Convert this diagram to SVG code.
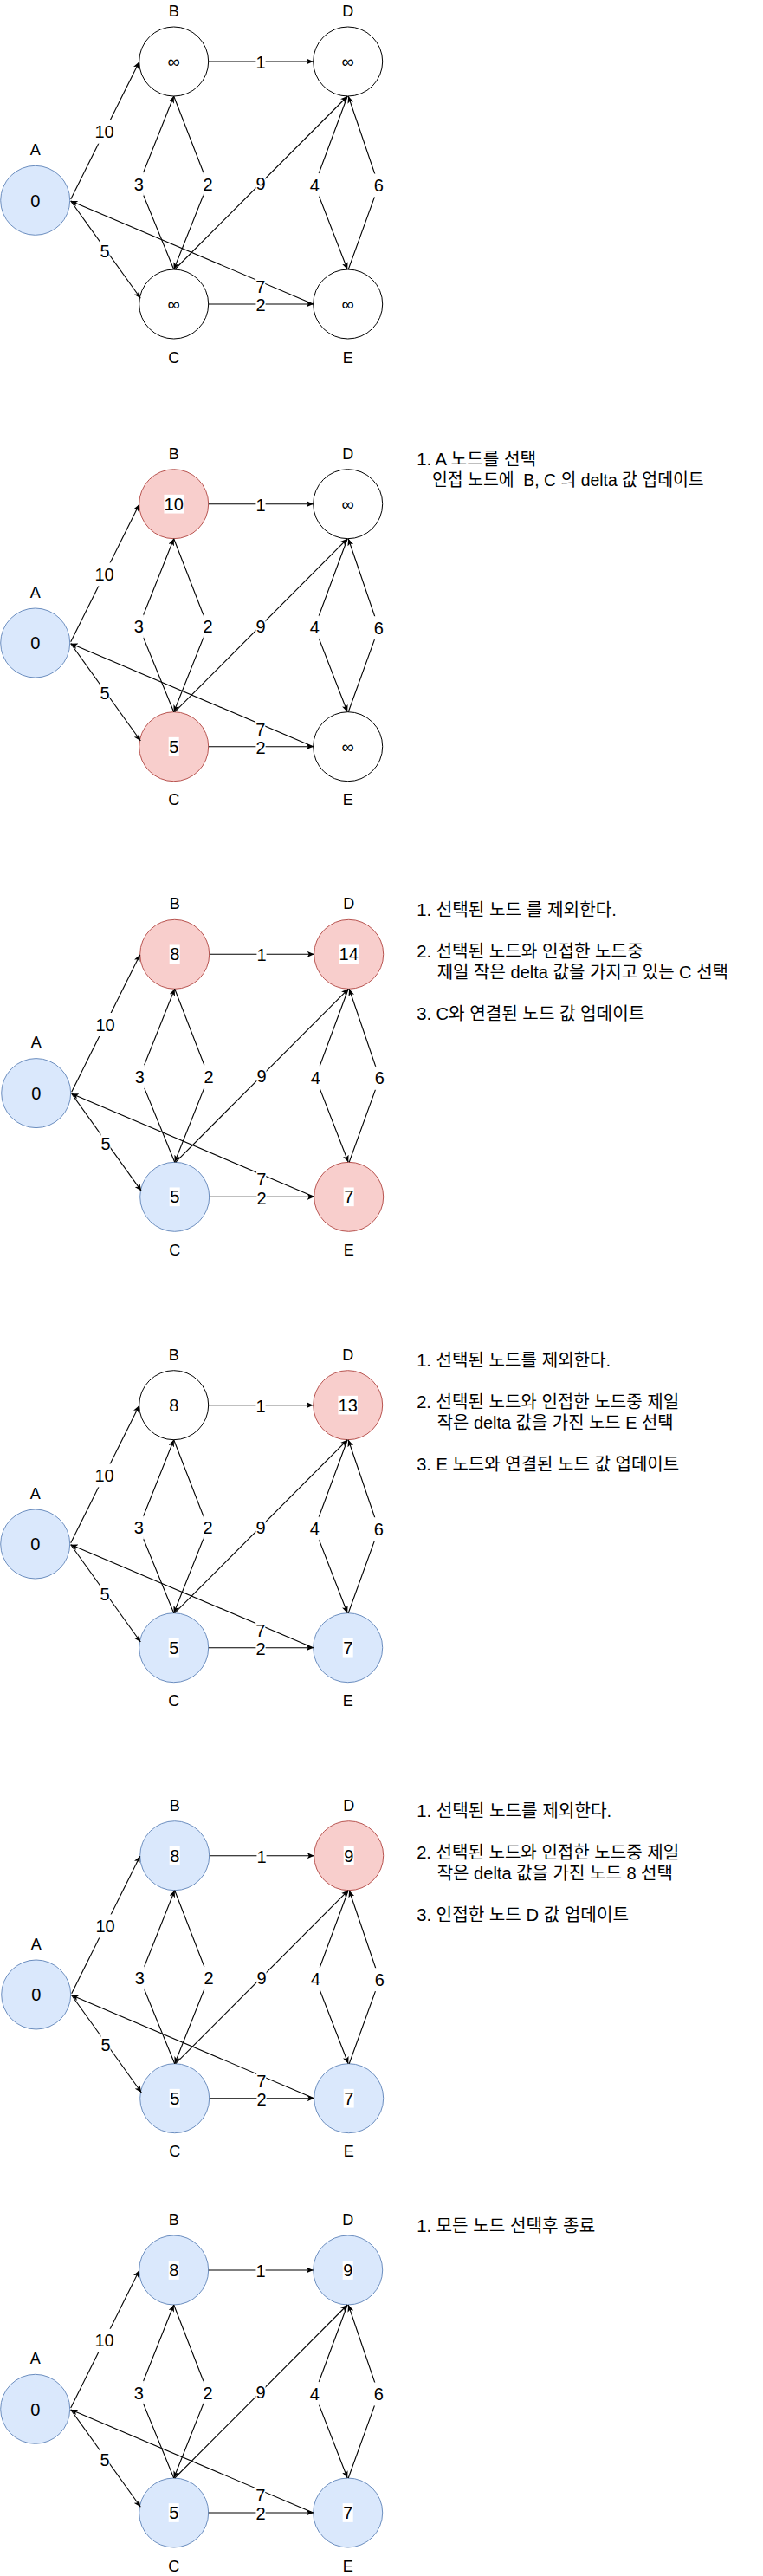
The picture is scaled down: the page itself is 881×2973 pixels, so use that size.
<svg xmlns="http://www.w3.org/2000/svg" xmlns:xlink="http://www.w3.org/1999/xlink" width="881" height="2973" viewBox="0 0 881 2973">
<style>
text { font-family: 'Liberation Sans', 'Noto Sans CJK KR', sans-serif; fill: #000; }
.lbl { font-size: 18px; text-anchor: middle; }
.val { font-size: 20px; text-anchor: middle; }
.el { font-size: 20px; text-anchor: middle; }
.bg { fill: #fff; stroke: none; }
.blue { fill: #dae8fc; stroke: #6c8ebf; stroke-width: 1; }
.red { fill: #f8cecc; stroke: #b85450; stroke-width: 1; }
.white { fill: #fff; stroke: #000; stroke-width: 1; }
.edge { fill: none; stroke: #000; stroke-width: 1.1; marker-end: url(#arr); }
.note { font-size: 20px; white-space: pre; }
</style>
<defs>
<marker id="arr" viewBox="0 0 8 7" refX="8" refY="3.5" markerWidth="8" markerHeight="7" markerUnits="userSpaceOnUse" orient="auto">
<path d="M0,0 L8,3.5 L0,7 L2,3.5 z" fill="#000"/>
</marker>
</defs>
<rect width="881" height="2973" fill="#fff"/>

<!-- Panel 1 -->
<g id="panel1" transform="translate(0,0)">
<g id="p1-A"><circle class="blue" cx="40.7" cy="231.3" r="40"/><text class="val" x="40.7" y="238.5">0</text><text class="lbl" x="40.7" y="179">A</text></g>
<g id="p1-B"><circle class="white" cx="200.7" cy="71" r="40"/><text class="val" x="200.7" y="78">∞</text><text class="lbl" x="200.7" y="19">B</text></g>
<g id="p1-C"><circle class="white" cx="200.7" cy="351" r="40"/><text class="val" x="200.7" y="358">∞</text><text class="lbl" x="200.7" y="418.7">C</text></g>
<g id="p1-D"><circle class="white" cx="401.7" cy="71" r="40"/><text class="val" x="401.7" y="78">∞</text><text class="lbl" x="401.7" y="19">D</text></g>
<g id="p1-E"><circle class="white" cx="401.7" cy="351" r="40"/><text class="val" x="401.7" y="358">∞</text><text class="lbl" x="401.7" y="418.7">E</text></g>
<g id="p1-connectors">
<path class="edge" d="M81.7,230 L160.7,71.5"/>
<path class="edge" d="M81.7,232 L162.3,344.3"/>
<path class="edge" d="M361.7,351 L81.7,232"/>
<path class="edge" d="M240.7,71 L361.7,71"/>
<path class="edge" d="M240.7,351 L361.7,351"/>
<path class="edge" d="M200.7,311 L160.3,212.3 L200.7,111"/>
<path class="edge" d="M200.7,111 L240,212.3 L200.7,311"/>
<path class="edge" d="M201.7,311 L401.2,111"/>
<path class="edge" d="M401.2,111 L363.3,213.3 L401.2,311"/>
<path class="edge" d="M402.2,311 L437.3,214 L402.2,111"/>
<rect class="bg" x="109.25" y="138.7" width="22.5" height="27"/><text class="el" x="120.5" y="159.4">10</text>
<rect class="bg" x="115.4" y="275.8" width="11.2" height="27"/><text class="el" x="121" y="296.5">5</text>
<rect class="bg" x="295.1" y="317.3" width="11.2" height="27"/><text class="el" x="300.7" y="338">7</text>
<rect class="bg" x="295.4" y="58.2" width="11.2" height="27"/><text class="el" x="301" y="78.9">1</text>
<rect class="bg" x="295.4" y="338.7" width="11.2" height="27"/><text class="el" x="301" y="359.4">2</text>
<rect class="bg" x="154.7" y="198.8" width="11.2" height="27"/><text class="el" x="160.3" y="219.5">3</text>
<rect class="bg" x="234.4" y="198.8" width="11.2" height="27"/><text class="el" x="240" y="219.5">2</text>
<rect class="bg" x="295.4" y="198.5" width="11.2" height="27"/><text class="el" x="301" y="219.2">9</text>
<rect class="bg" x="357.7" y="199.8" width="11.2" height="27"/><text class="el" x="363.3" y="220.5">4</text>
<rect class="bg" x="431.7" y="200.5" width="11.2" height="27"/><text class="el" x="437.3" y="221.2">6</text>
</g>
</g>

<!-- Panel 2 -->
<g id="panel2" transform="translate(0,510.7)">
<g id="p2-A"><circle class="blue" cx="40.7" cy="231.3" r="40"/><text class="val" x="40.7" y="238.5">0</text><text class="lbl" x="40.7" y="179">A</text></g>
<g id="p2-B"><circle class="red" cx="200.7" cy="71" r="40"/><rect class="bg" x="189.45" y="60.15" width="22.5" height="21.7"/><text class="val" x="200.7" y="78.2">10</text><text class="lbl" x="200.7" y="19">B</text></g>
<g id="p2-C"><circle class="red" cx="200.7" cy="351" r="40"/><rect class="bg" x="194.7" y="340.15" width="12" height="21.7"/><text class="val" x="200.7" y="358.2">5</text><text class="lbl" x="200.7" y="418.7">C</text></g>
<g id="p2-D"><circle class="white" cx="401.7" cy="71" r="40"/><text class="val" x="401.7" y="78">∞</text><text class="lbl" x="401.7" y="19">D</text></g>
<g id="p2-E"><circle class="white" cx="401.7" cy="351" r="40"/><text class="val" x="401.7" y="358">∞</text><text class="lbl" x="401.7" y="418.7">E</text></g>
<g id="p2-connectors">
<path class="edge" d="M81.7,230 L160.7,71.5"/>
<path class="edge" d="M81.7,232 L162.3,344.3"/>
<path class="edge" d="M361.7,351 L81.7,232"/>
<path class="edge" d="M240.7,71 L361.7,71"/>
<path class="edge" d="M240.7,351 L361.7,351"/>
<path class="edge" d="M200.7,311 L160.3,212.3 L200.7,111"/>
<path class="edge" d="M200.7,111 L240,212.3 L200.7,311"/>
<path class="edge" d="M201.7,311 L401.2,111"/>
<path class="edge" d="M401.2,111 L363.3,213.3 L401.2,311"/>
<path class="edge" d="M402.2,311 L437.3,214 L402.2,111"/>
<rect class="bg" x="109.25" y="138.7" width="22.5" height="27"/><text class="el" x="120.5" y="159.4">10</text>
<rect class="bg" x="115.4" y="275.8" width="11.2" height="27"/><text class="el" x="121" y="296.5">5</text>
<rect class="bg" x="295.1" y="317.3" width="11.2" height="27"/><text class="el" x="300.7" y="338">7</text>
<rect class="bg" x="295.4" y="58.2" width="11.2" height="27"/><text class="el" x="301" y="78.9">1</text>
<rect class="bg" x="295.4" y="338.7" width="11.2" height="27"/><text class="el" x="301" y="359.4">2</text>
<rect class="bg" x="154.7" y="198.8" width="11.2" height="27"/><text class="el" x="160.3" y="219.5">3</text>
<rect class="bg" x="234.4" y="198.8" width="11.2" height="27"/><text class="el" x="240" y="219.5">2</text>
<rect class="bg" x="295.4" y="198.5" width="11.2" height="27"/><text class="el" x="301" y="219.2">9</text>
<rect class="bg" x="357.7" y="199.8" width="11.2" height="27"/><text class="el" x="363.3" y="220.5">4</text>
<rect class="bg" x="431.7" y="200.5" width="11.2" height="27"/><text class="el" x="437.3" y="221.2">6</text>
</g>
</g>
<g id="p2-notes">
<text class="note" x="481.2" y="536.7" textLength="138" lengthAdjust="spacingAndGlyphs">1. A 노드를 선택</text>
<text class="note" x="499" y="561" textLength="313.7" lengthAdjust="spacingAndGlyphs">인접 노드에  B, C 의 delta 값 업데이트</text>
</g>

<!-- Panel 3 -->
<g id="panel3" transform="translate(1,1030.3)">
<g id="p3-A"><circle class="blue" cx="40.7" cy="231.3" r="40"/><text class="val" x="40.7" y="238.5">0</text><text class="lbl" x="40.7" y="179">A</text></g>
<g id="p3-B"><circle class="red" cx="200.7" cy="71" r="40"/><rect class="bg" x="194.7" y="60.15" width="12" height="21.7"/><text class="val" x="200.7" y="78.2">8</text><text class="lbl" x="200.7" y="19">B</text></g>
<g id="p3-C"><circle class="blue" cx="200.7" cy="351" r="40"/><rect class="bg" x="194.7" y="340.15" width="12" height="21.7"/><text class="val" x="200.7" y="358.2">5</text><text class="lbl" x="200.7" y="418.7">C</text></g>
<g id="p3-D"><circle class="red" cx="401.7" cy="71" r="40"/><rect class="bg" x="390.45" y="60.15" width="22.5" height="21.7"/><text class="val" x="401.7" y="78.2">14</text><text class="lbl" x="401.7" y="19">D</text></g>
<g id="p3-E"><circle class="red" cx="401.7" cy="351" r="40"/><rect class="bg" x="395.7" y="340.15" width="12" height="21.7"/><text class="val" x="401.7" y="358.2">7</text><text class="lbl" x="401.7" y="418.7">E</text></g>
<g id="p3-connectors">
<path class="edge" d="M81.7,230 L160.7,71.5"/>
<path class="edge" d="M81.7,232 L162.3,344.3"/>
<path class="edge" d="M361.7,351 L81.7,232"/>
<path class="edge" d="M240.7,71 L361.7,71"/>
<path class="edge" d="M240.7,351 L361.7,351"/>
<path class="edge" d="M200.7,311 L160.3,212.3 L200.7,111"/>
<path class="edge" d="M200.7,111 L240,212.3 L200.7,311"/>
<path class="edge" d="M201.7,311 L401.2,111"/>
<path class="edge" d="M401.2,111 L363.3,213.3 L401.2,311"/>
<path class="edge" d="M402.2,311 L437.3,214 L402.2,111"/>
<rect class="bg" x="109.25" y="138.7" width="22.5" height="27"/><text class="el" x="120.5" y="159.4">10</text>
<rect class="bg" x="115.4" y="275.8" width="11.2" height="27"/><text class="el" x="121" y="296.5">5</text>
<rect class="bg" x="295.1" y="317.3" width="11.2" height="27"/><text class="el" x="300.7" y="338">7</text>
<rect class="bg" x="295.4" y="58.2" width="11.2" height="27"/><text class="el" x="301" y="78.9">1</text>
<rect class="bg" x="295.4" y="338.7" width="11.2" height="27"/><text class="el" x="301" y="359.4">2</text>
<rect class="bg" x="154.7" y="198.8" width="11.2" height="27"/><text class="el" x="160.3" y="219.5">3</text>
<rect class="bg" x="234.4" y="198.8" width="11.2" height="27"/><text class="el" x="240" y="219.5">2</text>
<rect class="bg" x="295.4" y="198.5" width="11.2" height="27"/><text class="el" x="301" y="219.2">9</text>
<rect class="bg" x="357.7" y="199.8" width="11.2" height="27"/><text class="el" x="363.3" y="220.5">4</text>
<rect class="bg" x="431.7" y="200.5" width="11.2" height="27"/><text class="el" x="437.3" y="221.2">6</text>
</g>
</g>
<g id="p3-notes">
<text class="note" x="481.2" y="1057.3" textLength="230.8" lengthAdjust="spacingAndGlyphs">1. 선택된 노드 를 제외한다.</text>
<text class="note" x="481.2" y="1105.3" textLength="261.5" lengthAdjust="spacingAndGlyphs">2. 선택된 노드와 인접한 노드중</text>
<text class="note" x="504.7" y="1129.3" textLength="336.3" lengthAdjust="spacingAndGlyphs">제일 작은 delta 값을 가지고 있는 C 선택</text>
<text class="note" x="481.2" y="1177" textLength="263" lengthAdjust="spacingAndGlyphs">3. C와 연결된 노드 값 업데이트</text>
</g>

<!-- Panel 4 -->
<g id="panel4" transform="translate(0,1550.7)">
<g id="p4-A"><circle class="blue" cx="40.7" cy="231.3" r="40"/><text class="val" x="40.7" y="238.5">0</text><text class="lbl" x="40.7" y="179">A</text></g>
<g id="p4-B"><circle class="white" cx="200.7" cy="71" r="40"/><rect class="bg" x="194.7" y="60.15" width="12" height="21.7"/><text class="val" x="200.7" y="78.2">8</text><text class="lbl" x="200.7" y="19">B</text></g>
<g id="p4-C"><circle class="blue" cx="200.7" cy="351" r="40"/><rect class="bg" x="194.7" y="340.15" width="12" height="21.7"/><text class="val" x="200.7" y="358.2">5</text><text class="lbl" x="200.7" y="418.7">C</text></g>
<g id="p4-D"><circle class="red" cx="401.7" cy="71" r="40"/><rect class="bg" x="390.45" y="60.15" width="22.5" height="21.7"/><text class="val" x="401.7" y="78.2">13</text><text class="lbl" x="401.7" y="19">D</text></g>
<g id="p4-E"><circle class="blue" cx="401.7" cy="351" r="40"/><rect class="bg" x="395.7" y="340.15" width="12" height="21.7"/><text class="val" x="401.7" y="358.2">7</text><text class="lbl" x="401.7" y="418.7">E</text></g>
<g id="p4-connectors">
<path class="edge" d="M81.7,230 L160.7,71.5"/>
<path class="edge" d="M81.7,232 L162.3,344.3"/>
<path class="edge" d="M361.7,351 L81.7,232"/>
<path class="edge" d="M240.7,71 L361.7,71"/>
<path class="edge" d="M240.7,351 L361.7,351"/>
<path class="edge" d="M200.7,311 L160.3,212.3 L200.7,111"/>
<path class="edge" d="M200.7,111 L240,212.3 L200.7,311"/>
<path class="edge" d="M201.7,311 L401.2,111"/>
<path class="edge" d="M401.2,111 L363.3,213.3 L401.2,311"/>
<path class="edge" d="M402.2,311 L437.3,214 L402.2,111"/>
<rect class="bg" x="109.25" y="138.7" width="22.5" height="27"/><text class="el" x="120.5" y="159.4">10</text>
<rect class="bg" x="115.4" y="275.8" width="11.2" height="27"/><text class="el" x="121" y="296.5">5</text>
<rect class="bg" x="295.1" y="317.3" width="11.2" height="27"/><text class="el" x="300.7" y="338">7</text>
<rect class="bg" x="295.4" y="58.2" width="11.2" height="27"/><text class="el" x="301" y="78.9">1</text>
<rect class="bg" x="295.4" y="338.7" width="11.2" height="27"/><text class="el" x="301" y="359.4">2</text>
<rect class="bg" x="154.7" y="198.8" width="11.2" height="27"/><text class="el" x="160.3" y="219.5">3</text>
<rect class="bg" x="234.4" y="198.8" width="11.2" height="27"/><text class="el" x="240" y="219.5">2</text>
<rect class="bg" x="295.4" y="198.5" width="11.2" height="27"/><text class="el" x="301" y="219.2">9</text>
<rect class="bg" x="357.7" y="199.8" width="11.2" height="27"/><text class="el" x="363.3" y="220.5">4</text>
<rect class="bg" x="431.7" y="200.5" width="11.2" height="27"/><text class="el" x="437.3" y="221.2">6</text>
</g>
</g>
<g id="p4-notes">
<text class="note" x="481.2" y="1577.3" textLength="224" lengthAdjust="spacingAndGlyphs">1. 선택된 노드를 제외한다.</text>
<text class="note" x="481.2" y="1625" textLength="303" lengthAdjust="spacingAndGlyphs">2. 선택된 노드와 인접한 노드중 제일</text>
<text class="note" x="504.7" y="1649" textLength="273" lengthAdjust="spacingAndGlyphs">작은 delta 값을 가진 노드 E 선택</text>
<text class="note" x="481.2" y="1696.7" textLength="303" lengthAdjust="spacingAndGlyphs">3. E 노드와 연결된 노드 값 업데이트</text>
</g>

<!-- Panel 5 -->
<g id="panel5" transform="translate(1,2070.7)">
<g id="p5-A"><circle class="blue" cx="40.7" cy="231.3" r="40"/><text class="val" x="40.7" y="238.5">0</text><text class="lbl" x="40.7" y="179">A</text></g>
<g id="p5-B"><circle class="blue" cx="200.7" cy="71" r="40"/><rect class="bg" x="194.7" y="60.15" width="12" height="21.7"/><text class="val" x="200.7" y="78.2">8</text><text class="lbl" x="200.7" y="19">B</text></g>
<g id="p5-C"><circle class="blue" cx="200.7" cy="351" r="40"/><rect class="bg" x="194.7" y="340.15" width="12" height="21.7"/><text class="val" x="200.7" y="358.2">5</text><text class="lbl" x="200.7" y="418.7">C</text></g>
<g id="p5-D"><circle class="red" cx="401.7" cy="71" r="40"/><rect class="bg" x="395.7" y="60.15" width="12" height="21.7"/><text class="val" x="401.7" y="78.2">9</text><text class="lbl" x="401.7" y="19">D</text></g>
<g id="p5-E"><circle class="blue" cx="401.7" cy="351" r="40"/><rect class="bg" x="395.7" y="340.15" width="12" height="21.7"/><text class="val" x="401.7" y="358.2">7</text><text class="lbl" x="401.7" y="418.7">E</text></g>
<g id="p5-connectors">
<path class="edge" d="M81.7,230 L160.7,71.5"/>
<path class="edge" d="M81.7,232 L162.3,344.3"/>
<path class="edge" d="M361.7,351 L81.7,232"/>
<path class="edge" d="M240.7,71 L361.7,71"/>
<path class="edge" d="M240.7,351 L361.7,351"/>
<path class="edge" d="M200.7,311 L160.3,212.3 L200.7,111"/>
<path class="edge" d="M200.7,111 L240,212.3 L200.7,311"/>
<path class="edge" d="M201.7,311 L401.2,111"/>
<path class="edge" d="M401.2,111 L363.3,213.3 L401.2,311"/>
<path class="edge" d="M402.2,311 L437.3,214 L402.2,111"/>
<rect class="bg" x="109.25" y="138.7" width="22.5" height="27"/><text class="el" x="120.5" y="159.4">10</text>
<rect class="bg" x="115.4" y="275.8" width="11.2" height="27"/><text class="el" x="121" y="296.5">5</text>
<rect class="bg" x="295.1" y="317.3" width="11.2" height="27"/><text class="el" x="300.7" y="338">7</text>
<rect class="bg" x="295.4" y="58.2" width="11.2" height="27"/><text class="el" x="301" y="78.9">1</text>
<rect class="bg" x="295.4" y="338.7" width="11.2" height="27"/><text class="el" x="301" y="359.4">2</text>
<rect class="bg" x="154.7" y="198.8" width="11.2" height="27"/><text class="el" x="160.3" y="219.5">3</text>
<rect class="bg" x="234.4" y="198.8" width="11.2" height="27"/><text class="el" x="240" y="219.5">2</text>
<rect class="bg" x="295.4" y="198.5" width="11.2" height="27"/><text class="el" x="301" y="219.2">9</text>
<rect class="bg" x="357.7" y="199.8" width="11.2" height="27"/><text class="el" x="363.3" y="220.5">4</text>
<rect class="bg" x="431.7" y="200.5" width="11.2" height="27"/><text class="el" x="437.3" y="221.2">6</text>
</g>
</g>
<g id="p5-notes">
<text class="note" x="481.2" y="2097.3" textLength="225" lengthAdjust="spacingAndGlyphs">1. 선택된 노드를 제외한다.</text>
<text class="note" x="481.2" y="2145" textLength="303" lengthAdjust="spacingAndGlyphs">2. 선택된 노드와 인접한 노드중 제일</text>
<text class="note" x="504.7" y="2169" textLength="272.3" lengthAdjust="spacingAndGlyphs">작은 delta 값을 가진 노드 8 선택</text>
<text class="note" x="481.2" y="2216.7" textLength="244.8" lengthAdjust="spacingAndGlyphs">3. 인접한 노드 D 값 업데이트</text>
</g>

<!-- Panel 6 -->
<g id="panel6" transform="translate(0,2549)">
<g id="p6-A"><circle class="blue" cx="40.7" cy="231.3" r="40"/><text class="val" x="40.7" y="238.5">0</text><text class="lbl" x="40.7" y="179">A</text></g>
<g id="p6-B"><circle class="blue" cx="200.7" cy="71" r="40"/><rect class="bg" x="194.7" y="60.15" width="12" height="21.7"/><text class="val" x="200.7" y="78.2">8</text><text class="lbl" x="200.7" y="19">B</text></g>
<g id="p6-C"><circle class="blue" cx="200.7" cy="351" r="40"/><rect class="bg" x="194.7" y="340.15" width="12" height="21.7"/><text class="val" x="200.7" y="358.2">5</text><text class="lbl" x="200.7" y="418.7">C</text></g>
<g id="p6-D"><circle class="blue" cx="401.7" cy="71" r="40"/><rect class="bg" x="395.7" y="60.15" width="12" height="21.7"/><text class="val" x="401.7" y="78.2">9</text><text class="lbl" x="401.7" y="19">D</text></g>
<g id="p6-E"><circle class="blue" cx="401.7" cy="351" r="40"/><rect class="bg" x="395.7" y="340.15" width="12" height="21.7"/><text class="val" x="401.7" y="358.2">7</text><text class="lbl" x="401.7" y="418.7">E</text></g>
<g id="p6-connectors">
<path class="edge" d="M81.7,230 L160.7,71.5"/>
<path class="edge" d="M81.7,232 L162.3,344.3"/>
<path class="edge" d="M361.7,351 L81.7,232"/>
<path class="edge" d="M240.7,71 L361.7,71"/>
<path class="edge" d="M240.7,351 L361.7,351"/>
<path class="edge" d="M200.7,311 L160.3,212.3 L200.7,111"/>
<path class="edge" d="M200.7,111 L240,212.3 L200.7,311"/>
<path class="edge" d="M201.7,311 L401.2,111"/>
<path class="edge" d="M401.2,111 L363.3,213.3 L401.2,311"/>
<path class="edge" d="M402.2,311 L437.3,214 L402.2,111"/>
<rect class="bg" x="109.25" y="138.7" width="22.5" height="27"/><text class="el" x="120.5" y="159.4">10</text>
<rect class="bg" x="115.4" y="275.8" width="11.2" height="27"/><text class="el" x="121" y="296.5">5</text>
<rect class="bg" x="295.1" y="317.3" width="11.2" height="27"/><text class="el" x="300.7" y="338">7</text>
<rect class="bg" x="295.4" y="58.2" width="11.2" height="27"/><text class="el" x="301" y="78.9">1</text>
<rect class="bg" x="295.4" y="338.7" width="11.2" height="27"/><text class="el" x="301" y="359.4">2</text>
<rect class="bg" x="154.7" y="198.8" width="11.2" height="27"/><text class="el" x="160.3" y="219.5">3</text>
<rect class="bg" x="234.4" y="198.8" width="11.2" height="27"/><text class="el" x="240" y="219.5">2</text>
<rect class="bg" x="295.4" y="198.5" width="11.2" height="27"/><text class="el" x="301" y="219.2">9</text>
<rect class="bg" x="357.7" y="199.8" width="11.2" height="27"/><text class="el" x="363.3" y="220.5">4</text>
<rect class="bg" x="431.7" y="200.5" width="11.2" height="27"/><text class="el" x="437.3" y="221.2">6</text>
</g>
</g>
<g id="p6-notes">
<text class="note" x="481.2" y="2575.6" textLength="206" lengthAdjust="spacingAndGlyphs">1. 모든 노드 선택후 종료</text>
</g>
</svg>
